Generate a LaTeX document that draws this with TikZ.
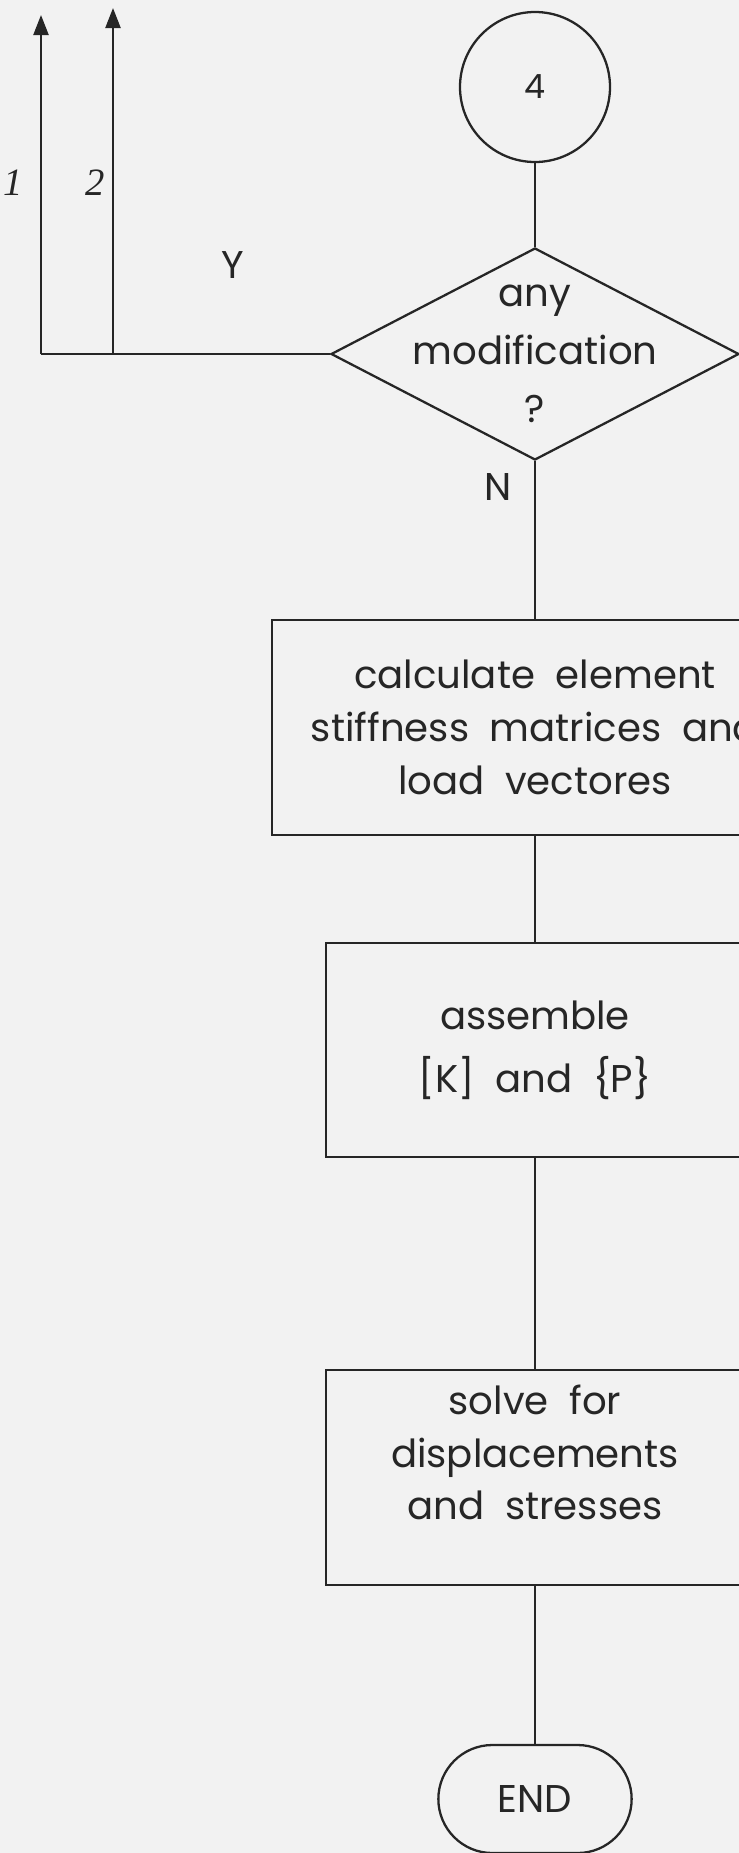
\documentclass[tikz,border=0pt]{standalone}
\usepackage{fontspec}
\setmainfont{Poppins}[WordSpace=2]
\newfontfamily\numfont{Liberation Serif}
\usetikzlibrary{positioning,arrows.meta,shapes.geometric,shapes.misc}

\begin{document}
\begin{tikzpicture}[
    line width=1.3pt, color=black!85,
    chart/.style={font=\fontsize{22}{30}\selectfont},
    procbox/.style={draw, rectangle, minimum height=4.3cm},
    decbox/.style={draw, diamond, minimum width=8.16cm, minimum height=4.24cm, inner sep=0pt},
    endbox/.style={draw, rounded rectangle, minimum width=4.1cm, minimum height=2.16cm},
    conn/.style={draw, circle, minimum size=3cm},
    flow/.style={-{Triangle[length=0.4cm, width=0.3cm]}},
    numlab/.style={font=\numfont\itshape\fontsize{22}{24}\selectfont}
  ]
    \useasboundingbox (0,0) rectangle (14.78,-37.06);
    \fill[black!5] (0,0) rectangle (14.78,-37.06);
    \clip (0,0) rectangle (14.78,-37.06);

    \node[conn, font=\fontsize{19}{20}\selectfont] (c4) at (10.70,-1.74) {4};
    \node[decbox] (dec) at (10.70,-7.08) {};
    \node[chart, font=\fontsize{22}{33}\selectfont, align=center] (dectext) at (dec.center) {any\\modification\\?};

    \node[procbox, chart, minimum width=10.52cm, align=center] (calc) at (10.70,-14.55)
        {calculate element\\stiffness matrices and\\load vectores};
    \node[procbox, chart, font=\fontsize{22}{36}\selectfont, minimum width=8.36cm, minimum height=4.28cm, align=center] (asm) at (10.70,-21.0)
        {assemble\\{[K]} and \{P\}};
    \node[procbox, minimum width=8.36cm] (solve) at (10.70,-29.55) {};
    \node[chart, align=center] (solvetext) at ([yshift=0.5cm]solve.center)
        {solve for\\displacements\\and stresses};
    \node[endbox, chart] (fin) at (10.70,-35.98) {END};

    \coordinate (j1) at (0.82,-7.08);
    \coordinate (j2) at (2.26,-7.08);
    \coordinate (t1) at (0.82,-0.30);
    \coordinate (t2) at (2.26,-0.16);

    \draw (c4) -- (dec.north);
    \draw (dec.south) -- (calc.north);
    \draw (calc.south) -- (asm.north);
    \draw (asm.south) -- (solve.north);
    \draw (solve.south) -- (fin.north);
    \draw (dec.west) -- (j1);
    \draw[flow] (j1) -- (t1);
    \draw[flow] (j2) -- (t2);

    \node[chart] (ylab) at (4.66,-5.3) {Y};
    \node[chart] (nlab) at (9.96,-9.74) {N};
    \node[numlab] (lab1) at (0.26,-3.66) {1};
    \node[numlab] (lab2) at (1.90,-3.66) {2};
  \end{tikzpicture}
\end{document}
